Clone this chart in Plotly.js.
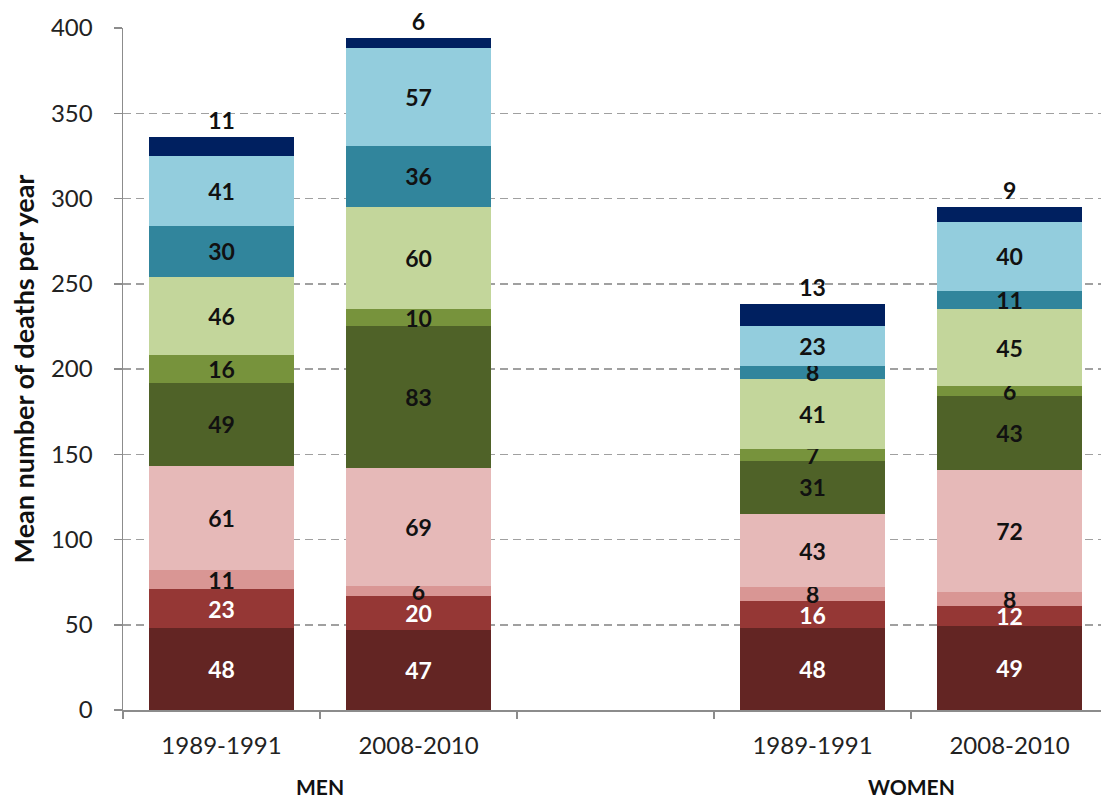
<!DOCTYPE html>
<html>
<head>
<meta charset="utf-8">
<script src="https://cdn.plot.ly/plotly-3.0.1.min.js"></script>
<style>
  html, body { margin: 0; padding: 0; background: #fff; }
  #chart { width: 1101px; height: 801px; }
</style>
</head>
<body>
<div id="chart"></div>
<script>
// Periods shown for each sex, and the sex group headings
const periods = ["1989-1991", "2008-2010", "1989-1991", "2008-2010"];
const groups = ["MEN", "WOMEN"];

// Stacked components, bottom to top (mean deaths per year)
const seg1 = [48, 47, 48, 49];
const seg2 = [23, 20, 16, 12];
const seg3 = [11, 6, 8, 8];
const seg4 = [61, 69, 43, 72];
const seg5 = [49, 83, 31, 43];
const seg6 = [16, 10, 7, 6];
const seg7 = [46, 60, 41, 45];
const seg8 = [30, 36, 8, 11];
const seg9 = [41, 57, 23, 40];
const seg10 = [11, 6, 13, 9];

const series = [seg1, seg2, seg3, seg4, seg5, seg6, seg7, seg8, seg9, seg10];
const colors = ["#632523", "#953735", "#d99694", "#e6b9b8", "#4f6228",
                "#77933c", "#c3d69b", "#31859c", "#93cddd", "#002060"];
const textColors = ["#ffffff", "#ffffff", "#111", "#111", "#111",
                    "#111", "#111", "#111", "#111", "#111"];

// Slot positions along the x axis: a blank slot separates the two sexes
const slots = [0, 1, 3, 4];
const labelFont = "Lato, 'Open Sans', sans-serif";

const traces = series.map((vals, i) => {
  const top = i === series.length - 1;
  const f = { family: labelFont, size: 23, color: textColors[i], weight: "bold" };
  return {
    type: "bar",
    x: slots,
    y: vals,
    width: 0.74,
    marker: { color: colors[i], line: { width: 0 } },
    text: vals.map(String),
    texttemplate: "%{text}",
    textposition: top ? "outside" : "inside",
    insidetextanchor: "middle",
    textangle: 0,
    constraintext: "none",
    cliponaxis: false,
    textfont: f,
    insidetextfont: f,
    outsidetextfont: f,
    hoverinfo: "skip",
    showlegend: false
  };
});

const boundaries = [-0.5, 0.5, 1.5, 2.5, 3.5, 4.5];

const layout = {
  width: 1101,
  height: 801,
  margin: { l: 123, r: 0, t: 28, b: 91 },
  paper_bgcolor: "#ffffff",
  plot_bgcolor: "#ffffff",
  barmode: "stack",
  showlegend: false,
  font: { family: labelFont, color: "#222" },
  xaxis: {
    range: [-0.5, 4.464],
    tickmode: "array",
    tickvals: slots,
    ticktext: periods,
    ticks: "",
    ticklabelstandoff: 14,
    tickfont: { size: 24, color: "#222" },
    showgrid: false,
    zeroline: false,
    showline: true,
    linecolor: "#8c8c8c",
    linewidth: 1.5,
    minor: {
      tickmode: "array",
      tickvals: boundaries,
      ticks: "outside",
      ticklen: 7,
      tickwidth: 1.5,
      tickcolor: "#8c8c8c",
      showgrid: false
    }
  },
  yaxis: {
    range: [0, 400],
    tickmode: "linear",
    tick0: 0,
    dtick: 50,
    ticks: "outside",
    ticklen: 8,
    tickwidth: 1.5,
    tickcolor: "#8c8c8c",
    ticklabelstandoff: 16,
    tickfont: { size: 24, color: "#222" },
    showgrid: true,
    gridcolor: "#a0a0a0",
    gridwidth: 1.5,
    griddash: "8px,5px",
    zeroline: false,
    showline: true,
    linecolor: "#8c8c8c",
    linewidth: 1.5,
    title: {
      text: "Mean number of deaths per year",
      font: { size: 27, color: "#111", weight: "bold" },
      standoff: 8
    }
  },
  annotations: [
    { x: 0.5, y: -0.112, xref: "x", yref: "paper", text: groups[0], showarrow: false,
      font: { size: 21, color: "#111", weight: "bold" }, yanchor: "middle", borderpad: 0 },
    { x: 3.5, y: -0.112, xref: "x", yref: "paper", text: groups[1], showarrow: false,
      font: { size: 21, color: "#111", weight: "bold" }, yanchor: "middle", borderpad: 0 }
  ]
};

Plotly.newPlot("chart", traces, layout, { displayModeBar: false, staticPlot: true });
</script>
</body>
</html>
